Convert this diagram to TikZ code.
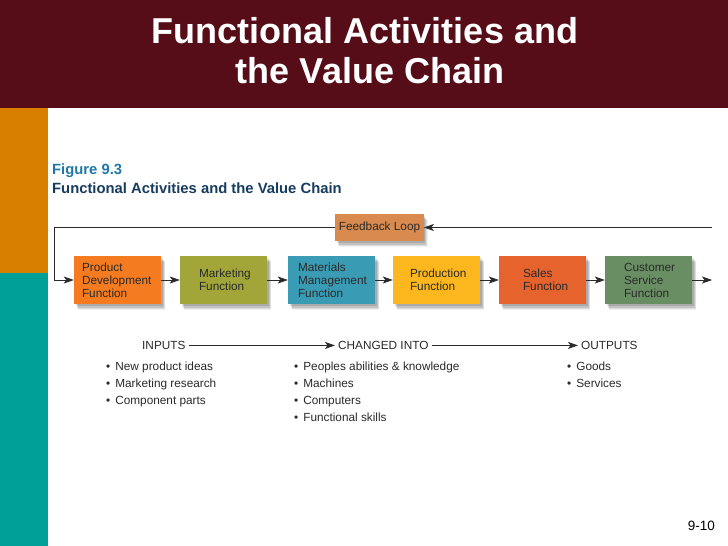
\documentclass[tikz,border=0pt]{standalone}
\usepackage{fontspec}
\setmainfont{Liberation Sans}
\usetikzlibrary{arrows.meta,shadows}
\definecolor{maroon}{HTML}{560D18}
\definecolor{sideorange}{HTML}{D97F00}
\definecolor{sideteal}{HTML}{00A099}
\definecolor{cprod}{HTML}{F47B20}
\definecolor{cmark}{HTML}{A2A638}
\definecolor{cmat}{HTML}{3A9CB4}
\definecolor{cprodn}{HTML}{FDB71E}
\definecolor{csales}{HTML}{E6632D}
\definecolor{ccust}{HTML}{6A8E64}
\definecolor{cfeed}{HTML}{D98A4E}
\definecolor{figblue}{HTML}{1F78A6}
\definecolor{fignavy}{HTML}{163C5F}
\definecolor{txt}{HTML}{2A2A2A}
\tikzset{
  softshadow/.style={
    drop shadow={shadow xshift=4pt, shadow yshift=-6pt, opacity=0.06, fill=black},
    drop shadow={shadow xshift=3.5pt, shadow yshift=-5pt, opacity=0.08, fill=black},
    drop shadow={shadow xshift=2.5pt, shadow yshift=-3.5pt, opacity=0.12, fill=black},
    drop shadow={shadow xshift=1.5pt, shadow yshift=-2pt, opacity=0.12, fill=black}},
  fbox/.style={draw=none, minimum width=87pt, minimum height=48pt, inner ysep=0pt,
    align=left, text=txt, font=\fontsize{11.8}{13}\selectfont, softshadow},
  arr/.style={-{Stealth[length=10pt,width=7pt,inset=2.5pt]}, line width=0.8pt, draw=txt},
  rowtxt/.style={anchor=base west, inner sep=0pt, text=txt, font=\fontsize{11.8}{13}\selectfont},
  hdtxt/.style={anchor=base west, inner xsep=3pt, inner ysep=2pt, text=txt, font=\fontsize{11.8}{13}\selectfont}
}
\newcommand{\bt}{\textbullet\hspace{5pt}}
\begin{document}
\begin{tikzpicture}[x=1pt,y=-1pt]
\useasboundingbox (0,0) rectangle (728,546);
% background
\fill[white] (0,0) rectangle (728,546);
\fill[maroon] (0,0) rectangle (728,108);
\fill[sideorange] (0,108) rectangle (48,273);
\fill[sideteal] (0,273) rectangle (48,546);
% slide title
\node[anchor=base, text=white, font=\bfseries\fontsize{36}{40}\selectfont] (t1) at (365,43) {Functional Activities and};
\node[anchor=base, text=white, font=\bfseries\fontsize{36}{40}\selectfont] (t2) at (370,83) {the Value Chain};
% figure caption
\node[anchor=base west, inner sep=0pt, text=figblue, font=\bfseries\fontsize{14.8}{16}\selectfont] (fig) at (52,174) {Figure 9.3};
\node[anchor=base west, inner sep=0pt, text=fignavy, font=\bfseries\fontsize{14.8}{16}\selectfont] (figt) at (52,193) {Functional Activities and the Value Chain};
% boxes
\node[fbox, fill=cprod, inner xsep=8pt, text width=71pt] (pd) at (117.5,280) {Product\\Development\\Function};
\node[fbox, fill=cmark, inner xsep=19pt, text width=49pt] (mk) at (223.5,280) {Marketing\\Function};
\node[fbox, fill=cmat, inner xsep=10pt, text width=67pt] (mm) at (331.5,280) {Materials\\Management\\Function};
\node[fbox, fill=cprodn, inner xsep=17pt, text width=53pt] (pr) at (436.5,280) {Production\\Function};
\node[fbox, fill=csales, inner xsep=24pt, text width=39pt] (sl) at (542.5,280) {Sales\\Function};
\node[fbox, fill=ccust, inner xsep=19pt, text width=49pt] (cs) at (648.5,280) {Customer\\Service\\Function};
\node[fbox, fill=cfeed, minimum height=27pt, inner xsep=3.5pt] (fb) at (379.5,227.5) {Feedback Loop};
% chain arrows
\draw[arr] (pd) -- (mk);
\draw[arr] (mk) -- (mm);
\draw[arr] (mm) -- (pr);
\draw[arr] (pr) -- (sl);
\draw[arr] (sl) -- (cs);
\coordinate (endr) at (712,280);
\draw[arr] (cs) -- (endr);
% feedback loop
\coordinate (fbr) at (712,227.5);
\coordinate (fbl) at (54,227.5);
\draw[arr] (fbr) -- (fb);
\draw[arr] (fb) -- (fbl) |- (pd);
% inputs / changed into / outputs
\node[hdtxt] (inp) at (139,349.5) {INPUTS};
\node[hdtxt] (chg) at (335,349.5) {CHANGED INTO};
\node[hdtxt] (out) at (578,349.5) {OUTPUTS};
\draw[arr] (inp) -- (chg);
\draw[arr] (chg) -- (out);
% lists
\node[rowtxt] (i1) at (106,370.5) {\bt New product ideas};
\node[rowtxt] (i2) at (106,387.5) {\bt Marketing research};
\node[rowtxt] (i3) at (106,404.5) {\bt Component parts};
\node[rowtxt] (c1) at (294,370.5) {\bt Peoples abilities \& knowledge};
\node[rowtxt] (c2) at (294,387.5) {\bt Machines};
\node[rowtxt] (c3) at (294,404.5) {\bt Computers};
\node[rowtxt] (c4) at (294,421.5) {\bt Functional skills};
\node[rowtxt] (o1) at (567,370.5) {\bt Goods};
\node[rowtxt] (o2) at (567,387.5) {\bt Services};
% page number
\node[anchor=base east, inner sep=0pt, text=black, font=\fontsize{13.5}{15}\selectfont] (pg) at (715,530) {9-10};
\end{tikzpicture}
\end{document}
